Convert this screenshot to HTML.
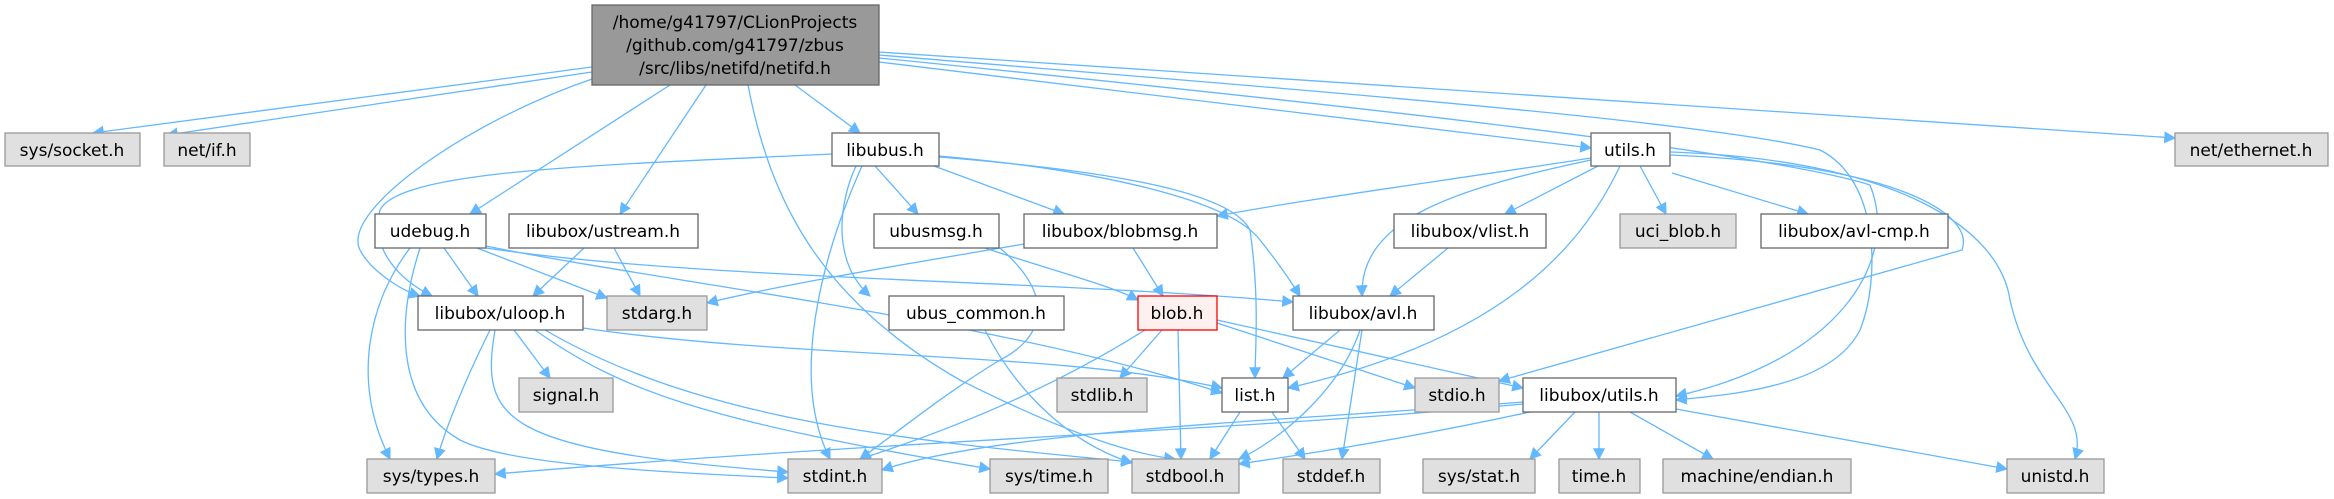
<!DOCTYPE html>
<html><head><meta charset="utf-8"><style>
html,body{margin:0;padding:0;background:#fff;width:2334px;height:499px;overflow:hidden}
svg text{font-family:"DejaVu Sans","Liberation Sans",sans-serif;font-size:17px;fill:#000;text-anchor:middle}
.w{fill:#fff;stroke:#666;stroke-width:1.3}
.g{fill:#e0e0e0;stroke:#999;stroke-width:1.3}
.e{fill:none;stroke:#63b8ff;stroke-width:1.3}
</style></head><body>
<svg width="2334" height="499" viewBox="0 0 2334 499" xmlns="http://www.w3.org/2000/svg">
<defs><marker id="a" viewBox="0 0 10 10" refX="9" refY="5" markerWidth="12" markerHeight="12" markerUnits="userSpaceOnUse" orient="auto"><path d="M0,0 L10,5 L0,10 z" fill="#63b8ff"/></marker></defs>
<g class="e" marker-end="url(#a)">
<!-- main -->
<path d="M592,67 L93,133"/>
<path d="M592,72 L167,135"/>
<path d="M595,78 C470,120 340,210 360,250 C370,270 400,290 420,296"/>
<path d="M670,85 L470,214"/>
<path d="M706,85 L620,214"/>
<path d="M748,85 C770,200 820,300 960,380 C1080,440 1140,455 1175,459"/>
<path d="M795,85 L860,133"/>
<path d="M879,62 L1591,148"/>
<path d="M879,52 L2175,138"/>
<path d="M879,55 C1300,90 1700,120 1820,150 C1880,180 1880,280 1860,330 C1830,390 1720,395 1676,400"/>
<path d="M879,58 C1300,100 1760,150 1870,185 C1900,260 1840,360 1676,396"/>
<!-- libubus -->
<path d="M832,154 C600,165 400,170 380,210 C370,250 400,280 432,296"/>
<path d="M875,166 L918,214"/>
<path d="M934,166 L1064,214"/>
<path d="M856,166 C840,200 830,260 870,296"/>
<path d="M862,166 C820,260 790,380 830,459"/>
<path d="M939,157 C1100,170 1230,190 1250,230 C1260,300 1255,350 1255,378"/>
<path d="M939,156 C1100,170 1230,200 1260,240 C1280,265 1290,280 1300,296"/>
<!-- udebug -->
<path d="M410,248 C370,300 350,380 390,459"/>
<path d="M420,248 C400,310 390,400 460,440 C500,460 600,470 788,478"/>
<path d="M444,248 L478,296"/>
<path d="M477,248 L607,298"/>
<path d="M486,248 C700,280 1050,280 1293,302"/>
<path d="M486,246 C650,280 1000,320 1222,393"/>
<!-- ustream -->
<path d="M584,248 L533,296"/>
<path d="M614,248 L640,296"/>
<!-- uloop -->
<path d="M514,330 L550,378"/>
<path d="M490,330 C465,380 445,430 437,459"/>
<path d="M495,330 C480,420 500,450 788,472"/>
<path d="M535,330 C620,390 700,420 990,469"/>
<path d="M545,330 C700,420 900,440 1132,462"/>
<path d="M583,328 C800,360 1050,350 1222,388"/>
<!-- ubusmsg / blobmsg -->
<path d="M985,248 C1050,270 1110,285 1138,300"/>
<path d="M1000,248 C1060,300 1040,340 1000,360 C950,390 900,430 860,459"/>
<path d="M1024,244 C900,265 780,285 707,303"/>
<path d="M1133,248 L1163,296"/>
<!-- ubus_common -->
<path d="M985,330 C1010,380 1060,440 1132,463"/>
<!-- blob -->
<path d="M1162,330 L1120,378"/>
<path d="M1145,330 C1050,390 950,430 860,459"/>
<path d="M1178,330 L1181,459"/>
<path d="M1217,323 L1415,388"/>
<path d="M1217,320 L1523,388"/>
<!-- avl -->
<path d="M1340,330 L1283,378"/>
<path d="M1360,330 C1340,390 1280,440 1239,459"/>
<path d="M1362,330 L1342,459"/>
<!-- list -->
<path d="M1240,412 L1210,459"/>
<path d="M1272,412 L1305,459"/>
<!-- vlist -->
<path d="M1448,248 L1390,296"/>
<!-- utils -->
<path d="M1591,158 C1450,180 1300,200 1217,216"/>
<path d="M1591,160 C1450,190 1360,220 1362,296"/>
<path d="M1598,166 L1505,214"/>
<path d="M1640,166 L1666,214"/>
<path d="M1672,173 L1808,214"/>
<path d="M1620,166 C1580,250 1500,340 1288,388"/>
<path d="M1671,155 C1900,165 1975,215 1962,250 L1499,381"/>
<path d="M1671,152 C1900,160 2000,230 2010,300 C2030,390 2090,410 2075,459"/>
<!-- libubox/utils -->
<path d="M1523,402 C1300,420 1000,430 882,470"/>
<path d="M1523,404 C1250,430 900,440 495,474"/>
<path d="M1530,412 C1400,440 1300,455 1239,464"/>
<path d="M1575,412 L1530,459"/>
<path d="M1599,412 L1599,459"/>
<path d="M1630,412 L1713,459"/>
<path d="M1676,409 L2007,469"/>
</g>
<!-- nodes -->
<rect x="592" y="5" width="287" height="80" fill="#999" stroke="#666" stroke-width="1.3"/>
<text x="735" y="28">/home/g41797/CLionProjects</text>
<text x="735" y="51">/github.com/g41797/zbus</text>
<text x="735" y="74">/src/libs/netifd/netifd.h</text>
<rect class="g" x="5" y="133" width="135" height="33"/><text x="72" y="156">sys/socket.h</text>
<rect class="g" x="164" y="133" width="86" height="33"/><text x="207" y="156">net/if.h</text>
<rect class="w" x="832" y="133" width="107" height="33"/><text x="885" y="156">libubus.h</text>
<rect class="w" x="1591" y="133" width="79" height="33"/><text x="1630" y="156">utils.h</text>
<rect class="g" x="2175" y="133" width="153" height="33"/><text x="2251" y="156">net/ethernet.h</text>
<rect class="w" x="375" y="214" width="111" height="34"/><text x="430" y="237">udebug.h</text>
<rect class="w" x="509" y="214" width="189" height="34"/><text x="603" y="237">libubox/ustream.h</text>
<rect class="w" x="874" y="214" width="125" height="34"/><text x="936" y="237">ubusmsg.h</text>
<rect class="w" x="1024" y="214" width="193" height="34"/><text x="1120" y="237">libubox/blobmsg.h</text>
<rect class="w" x="1394" y="214" width="152" height="34"/><text x="1470" y="237">libubox/vlist.h</text>
<rect class="g" x="1620" y="214" width="116" height="34"/><text x="1678" y="237">uci_blob.h</text>
<rect class="w" x="1761" y="214" width="187" height="34"/><text x="1854" y="237">libubox/avl-cmp.h</text>
<rect class="w" x="418" y="296" width="165" height="34"/><text x="500" y="319">libubox/uloop.h</text>
<rect class="g" x="607" y="296" width="100" height="34"/><text x="657" y="319">stdarg.h</text>
<rect class="w" x="889" y="296" width="175" height="34"/><text x="976" y="319">ubus_common.h</text>
<rect x="1138" y="296" width="79" height="34" fill="#fff0f0" stroke="#f00" stroke-width="1.3"/><text x="1177" y="319">blob.h</text>
<rect class="w" x="1293" y="296" width="141" height="34"/><text x="1363" y="319">libubox/avl.h</text>
<rect class="g" x="519" y="378" width="94" height="34"/><text x="566" y="401">signal.h</text>
<rect class="g" x="1057" y="378" width="90" height="34"/><text x="1102" y="401">stdlib.h</text>
<rect class="w" x="1222" y="378" width="66" height="34"/><text x="1255" y="401">list.h</text>
<rect class="g" x="1415" y="378" width="84" height="34"/><text x="1457" y="401">stdio.h</text>
<rect class="w" x="1523" y="378" width="153" height="34"/><text x="1599" y="401">libubox/utils.h</text>
<rect class="g" x="367" y="459" width="128" height="34"/><text x="431" y="482">sys/types.h</text>
<rect class="g" x="788" y="459" width="94" height="34"/><text x="835" y="482">stdint.h</text>
<rect class="g" x="990" y="459" width="118" height="34"/><text x="1049" y="482">sys/time.h</text>
<rect class="g" x="1132" y="459" width="107" height="34"/><text x="1185" y="482">stdbool.h</text>
<rect class="g" x="1283" y="459" width="97" height="34"/><text x="1331" y="482">stddef.h</text>
<rect class="g" x="1423" y="459" width="112" height="34"/><text x="1479" y="482">sys/stat.h</text>
<rect class="g" x="1559" y="459" width="81" height="34"/><text x="1599" y="482">time.h</text>
<rect class="g" x="1663" y="459" width="188" height="34"/><text x="1757" y="482">machine/endian.h</text>
<rect class="g" x="2007" y="459" width="97" height="34"/><text x="2055" y="482">unistd.h</text>
</svg>
</body></html>
